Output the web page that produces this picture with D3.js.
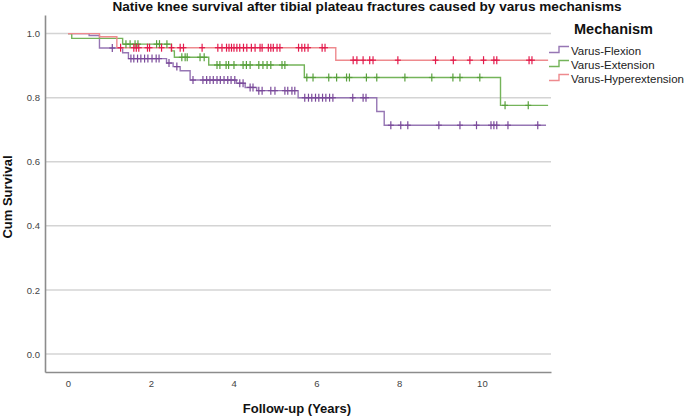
<!DOCTYPE html>
<html>
<head>
<meta charset="utf-8">
<script src="https://cdn.jsdelivr.net/npm/d3@7"></script>
<style>
body { margin: 0; background: #fff; }
svg { font-family: "Liberation Sans", Arial, sans-serif; }
.grid line { stroke: #d4d4d4; stroke-width: 1.5px; }
.tick-label { font-size: 9.5px; fill: #444; }
.axis-title { font-size: 13px; font-weight: bold; fill: #111; }
.legend-text { font-size: 11.5px; fill: #222; }
</style>
</head>
<body>
<svg id="chart" width="685" height="417"></svg>
<script>
// group names, in legend order
var groups = [ "Varus-Flexion", "Varus-Extension", "Varus-Hyperextension" ];

// event times (years) and survival right after each event
var flexionTimes    = [ 0.51, 0.76, 1.32, 1.46, 2.38, 2.54, 2.71, 2.95, 4.07, 4.28, 4.56, 5.56, 7.46, 7.64 ];
var flexionSurv     = [ 0.994, 0.955, 0.940, 0.922, 0.908, 0.897, 0.884, 0.855, 0.845, 0.832, 0.822, 0.800, 0.757, 0.714 ];
var flexionCensored = [ 1.07, 1.52, 1.59, 1.68, 1.76, 1.85, 1.93, 2.03, 2.13, 2.20, 2.44, 2.63, 3.02, 3.26, 3.35,
                        3.43, 3.51, 3.60, 3.68, 3.77, 3.86, 3.94, 4.03, 4.15, 4.23, 4.40, 4.47, 4.61, 4.69, 4.90,
                        5.00, 5.24, 5.31, 5.41, 5.48, 5.72, 5.81, 5.89, 5.98, 6.06, 6.15, 6.23, 6.32, 6.40, 6.88,
                        7.13, 7.20, 7.80, 8.04, 8.21, 8.96, 9.47, 9.87, 10.22, 10.29, 10.36, 10.63, 11.35 ];

var extensionTimes    = [ 0.09, 1.32, 2.50, 2.57, 3.40, 5.71, 10.45 ];
var extensionSurv     = [ 0.985, 0.967, 0.946, 0.926, 0.902, 0.863, 0.776 ];
var extensionCensored = [ 1.40, 1.50, 1.62, 1.69, 2.14, 2.21, 2.39, 2.75, 2.83, 2.88, 3.19, 3.29, 3.60, 3.67, 3.82,
                          3.88, 4.01, 4.23, 4.31, 4.40, 4.61, 4.71, 4.81, 4.90, 5.17, 5.24, 5.77, 5.92, 6.30, 6.49,
                          6.73, 6.80, 7.21, 7.46, 8.14, 8.79, 9.30, 9.47, 9.95, 10.56, 11.12 ];

var hyperTimes    = [ 0.76, 1.18, 6.47 ];
var hyperSurv     = [ 0.990, 0.956, 0.917 ];
var hyperCensored = [ 1.27, 1.59, 1.65, 1.71, 1.92, 1.97, 2.26, 2.50, 2.71, 2.79, 3.24, 3.62, 3.72, 3.83, 3.89,
                      3.95, 4.01, 4.08, 4.15, 4.24, 4.32, 4.43, 4.52, 4.64, 4.69, 4.84, 4.90, 4.96, 5.05, 5.12,
                      5.57, 5.65, 5.72, 5.80, 6.14, 6.21, 6.89, 6.98, 7.13, 7.29, 7.37, 7.97, 8.88, 9.31, 9.71,
                      10.04, 10.29, 10.36, 11.14, 11.21 ];

// last follow-up per group
var lastFollowUp = [ 11.55, 11.6, 11.6 ];

var xTicks = [ 0, 2, 4, 6, 8, 10 ];
var yTicks = [ 0, 0.2, 0.4, 0.6, 0.8, 1.0 ];

( function() {

  var lineColors   = [ "#9676b4", "#74b45a", "#ee8a8e" ];
  var censorColors = [ "#7a4a9a", "#58a03c", "#e31a4c" ];

  var series = [
    { name : groups[0], times : flexionTimes,   surv : flexionSurv,   censored : flexionCensored,   end : lastFollowUp[0] },
    { name : groups[1], times : extensionTimes, surv : extensionSurv, censored : extensionCensored, end : lastFollowUp[1] },
    { name : groups[2], times : hyperTimes,     surv : hyperSurv,     censored : hyperCensored,     end : lastFollowUp[2] }
  ];

  var svg = d3.select( "#chart" );

  var x = d3.scaleLinear().domain( [ -0.556, 11.67 ] ).range( [ 45, 551 ] );
  var y = d3.scaleLinear().domain( [ -0.056, 1.058 ] ).range( [ 372, 15 ] );

  // horizontal grid
  svg.append( "g" ).attr( "class", "grid" )
    .selectAll( "line" ).data( yTicks ).enter().append( "line" )
    .attr( "x1", x.range()[0] ).attr( "x2", x.range()[1] )
    .attr( "y1", function( d ) { return y( d ); } )
    .attr( "y2", function( d ) { return y( d ); } );

  // axes drawn with d3.axis, then restyled to look like SPSS
  var yAxis = svg.append( "g" ).attr( "transform", "translate(" + x.range()[0] + ",0)" )
    .call( d3.axisLeft( y ).tickValues( yTicks ).tickFormat( d3.format( ".1f" ) ).tickSize( 0 ).tickPadding( 5 ) );
  var xAxis = svg.append( "g" ).attr( "transform", "translate(0," + y.range()[0] + ")" )
    .call( d3.axisBottom( x ).tickValues( xTicks ).tickFormat( d3.format( "d" ) ).tickSize( 0 ).tickPadding( 8 ) );

  [ yAxis, xAxis ].forEach( function( a ) {
    a.select( ".domain" ).attr( "stroke", "#8c8c8c" ).attr( "stroke-width", 1.6 );
    a.selectAll( "text" ).attr( "class", "tick-label" ).attr( "font-family", null ).attr( "font-size", null ).attr( "fill", null );
  } );

  function survAt( s, t ) {
    var v = 1;
    for( var i = 0; i < s.times.length; i++ ) {
      if( s.times[i] <= t ) v = s.surv[i];
    }
    return v;
  }

  var line = d3.line()
    .x( function( d ) { return x( d[0] ); } )
    .y( function( d ) { return y( d[1] ); } )
    .curve( d3.curveStepAfter );

  series.forEach( function( s, i ) {
    var pts = [ [ 0, 1 ] ];
    s.times.forEach( function( t, k ) { pts.push( [ t, s.surv[k] ] ); } );
    pts.push( [ s.end, s.surv[ s.surv.length - 1 ] ] );

    svg.append( "path" ).datum( pts )
      .attr( "d", line )
      .attr( "fill", "none" )
      .attr( "stroke", lineColors[i] )
      .attr( "stroke-width", 1.4 );
  } );

  // censor marks on top
  series.forEach( function( s, i ) {
    var g = svg.append( "g" ).attr( "stroke", censorColors[i] ).attr( "stroke-width", 1.2 );
    s.censored.forEach( function( t ) {
      var cx = x( t ), cy = y( survAt( s, t ) );
      g.append( "line" ).attr( "x1", cx ).attr( "x2", cx ).attr( "y1", cy - 4 ).attr( "y2", cy + 4 );
      g.append( "line" ).attr( "x1", cx - 3 ).attr( "x2", cx + 3 ).attr( "y1", cy ).attr( "y2", cy );
    } );
  } );

  // titles
  svg.append( "text" ).attr( "class", "axis-title" )
    .attr( "x", 367 ).attr( "y", 11 ).attr( "text-anchor", "middle" )
    .attr( "font-size", "13.6px" ).style( "font-size", "13.6px" )
    .text( "Native knee survival after tibial plateau fractures caused by varus mechanisms" );

  svg.append( "text" ).attr( "class", "axis-title" )
    .attr( "x", 297 ).attr( "y", 413 ).attr( "text-anchor", "middle" )
    .text( "Follow-up (Years)" );

  svg.append( "text" ).attr( "class", "axis-title" )
    .attr( "transform", "translate(12,197) rotate(-90)" ).attr( "text-anchor", "middle" )
    .text( "Cum Survival" );

  // legend
  var legend = svg.append( "g" ).attr( "transform", "translate(549,0)" );
  legend.append( "text" ).attr( "x", 25 ).attr( "y", 34 )
    .attr( "font-size", "14.5px" ).attr( "font-weight", "bold" ).attr( "fill", "#111" )
    .text( "Mechanism" );

  groups.forEach( function( name, i ) {
    var cy = 50.5 + i * 14;
    legend.append( "path" )
      .attr( "d", "M0," + ( cy + 2 ) + "H10V" + ( cy - 4 ) + "H20" )
      .attr( "fill", "none" ).attr( "stroke", lineColors[i] ).attr( "stroke-width", 1.4 );
    legend.append( "text" ).attr( "class", "legend-text" )
      .attr( "x", 22 ).attr( "y", cy + 4 )
      .text( name );
  } );

} )();
</script>
</body>
</html>
